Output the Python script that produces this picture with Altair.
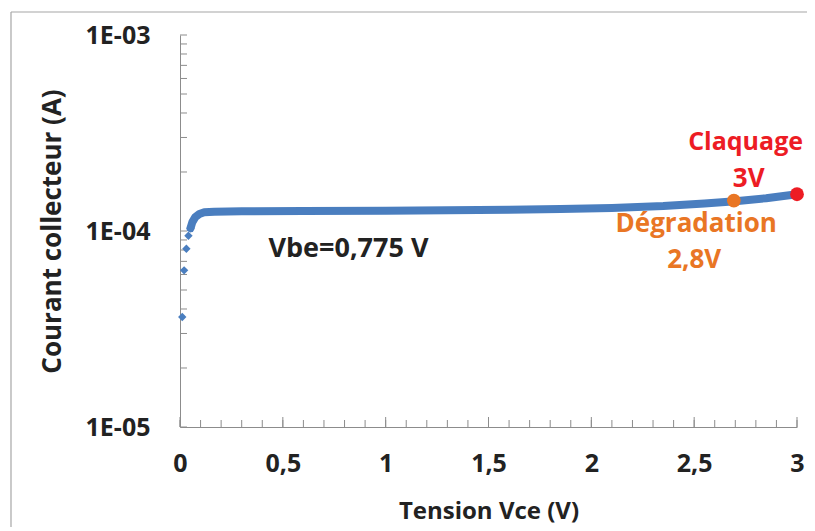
import altair as alt
import pandas as pd

# ---- data ----
sparse_vce = [0.011, 0.020, 0.031, 0.041, 0.051]
sparse_ic = [3.64e-5, 6.30e-5, 8.12e-5, 9.46e-5, 1.033e-4]

curve_vce = [0.051, 0.060, 0.075, 0.094, 0.118, 0.167, 0.30, 0.60, 1.00, 1.30,
             1.60, 1.85, 2.10, 2.35, 2.55, 2.70, 2.85, 3.00]
curve_ic = [1.033e-4, 1.11e-4, 1.18e-4, 1.22e-4, 1.245e-4, 1.255e-4, 1.26e-4,
            1.265e-4, 1.27e-4, 1.275e-4, 1.285e-4, 1.295e-4, 1.31e-4, 1.34e-4,
            1.38e-4, 1.42e-4, 1.47e-4, 1.54e-4]

key_labels = ["Dégradation", "Claquage"]
key_vce = [2.693, 3.0]
key_ic = [1.43e-4, 1.54e-4]
key_colors = ["#E97624", "#ED1C24"]

ann_text = ["Claquage", "3V", "Dégradation", "2,8V", "Vbe=0,775 V"]
ann_vce = [2.75, 2.765, 2.51, 2.50, 0.43]
ann_ic = [2.59e-4, 1.68e-4, 9.88e-5, 6.48e-5, 7.39e-5]
ann_color = ["#ED1C24", "#ED1C24", "#E97624", "#E97624", "#222222"]
ann_size = [25, 26, 26, 26, 27]

x_major = [0, 0.5, 1, 1.5, 2, 2.5, 3]
x_minor = [round(i * 0.1, 1) for i in range(31)]
y_major = [1e-5, 1e-4, 1e-3]
y_minor = [m * 10.0 ** e for e in (-5, -4) for m in range(1, 10)] + [1e-3]

W, H = 617, 392
FONT = "Open Sans"
BLUE = "#4A7EBF"
GREY = "#8C8C8C"
INK = "#222222"

xs = alt.Scale(domain=[0, 3], nice=False, zero=False)
ys = alt.Scale(type="log", domain=[1e-5, 1e-3], nice=False)

x_axis = alt.Axis(values=x_major, ticks=False, grid=False, domainColor=GREY,
                  labelExpr="replace(format(datum.value, '~g'), '.', ',')",
                  labelFlush=False,
                  labelFont=FONT, labelFontWeight="bold", labelFontSize=25,
                  labelColor=INK, labelPadding=24,
                  title="Tension Vce (V)", titleFont=FONT, titleFontWeight="bold",
                  titleFontSize=24, titleColor=INK, titlePadding=23)
y_axis = alt.Axis(values=y_major, ticks=False, grid=False, domainColor=GREY,
                  labelExpr="'1E-0' + round(-log(datum.value) / LN10)",
                  labelFont=FONT, labelFontWeight="bold", labelFontSize=25,
                  labelColor=INK, labelPadding=30,
                  title="Courant collecteur (A)", titleFont=FONT, titleFontWeight="bold",
                  titleFontSize=26, titleColor=INK, titlePadding=20)

curve_df = pd.DataFrame({"Vce": curve_vce, "Ic": curve_ic})
sparse_df = pd.DataFrame({"Vce": sparse_vce, "Ic": sparse_ic})
key_df = pd.DataFrame({"label": key_labels, "Vce": key_vce, "Ic": key_ic, "c": key_colors})
ann_df = pd.DataFrame({"t": ann_text, "Vce": ann_vce, "Ic": ann_ic, "c": ann_color, "s": ann_size})
xmin_df = pd.DataFrame({"v": x_minor, "major": [abs(v * 2 - round(v * 2)) < 1e-9 for v in x_minor]})
ymin_df = pd.DataFrame({"v": y_minor})
one = pd.DataFrame({"k": [0]})

frame_top = alt.Chart(one).mark_rule(color="#A6A6A6", strokeWidth=1.2).encode(
    x=alt.value(-169), x2=alt.value(W + 60), y=alt.value(-23))
frame_left = alt.Chart(one).mark_rule(color="#A6A6A6", strokeWidth=1.2).encode(
    x=alt.value(-169), y=alt.value(-23), y2=alt.value(H + 200))

base_line = alt.Chart(curve_df).mark_line(
    color=BLUE, strokeWidth=8, strokeCap="round", strokeJoin="round"
).encode(x=alt.X("Vce:Q", scale=xs, axis=x_axis), y=alt.Y("Ic:Q", scale=ys, axis=y_axis))

sparse = alt.Chart(sparse_df).mark_point(
    shape="diamond", filled=True, color=BLUE, size=70, opacity=1
).encode(x=alt.X("Vce:Q", scale=xs), y=alt.Y("Ic:Q", scale=ys))

keys = alt.Chart(key_df).mark_circle(size=190, opacity=1).encode(
    x=alt.X("Vce:Q", scale=xs), y=alt.Y("Ic:Q", scale=ys),
    color=alt.Color("c:N", scale=None))

ann_center = alt.Chart(ann_df).transform_filter("datum.t != 'Vbe=0,775 V'").mark_text(
    font=FONT, fontWeight="bold", align="center", baseline="alphabetic"
).encode(x=alt.X("Vce:Q", scale=xs), y=alt.Y("Ic:Q", scale=ys), text="t:N",
         size=alt.Size("s:Q", scale=None), color=alt.Color("c:N", scale=None))
ann_left = alt.Chart(ann_df).transform_filter("datum.t == 'Vbe=0,775 V'").mark_text(
    font=FONT, fontWeight="bold", align="left", baseline="alphabetic"
).encode(x=alt.X("Vce:Q", scale=xs), y=alt.Y("Ic:Q", scale=ys), text="t:N",
         size=alt.Size("s:Q", scale=None), color=alt.Color("c:N", scale=None))

xticks_minor = alt.Chart(xmin_df).mark_rule(color=GREY, strokeWidth=1).encode(
    x=alt.X("v:Q", scale=xs), y=alt.value(H), y2=alt.value(H - 7))
xticks_major = alt.Chart(xmin_df).transform_filter("datum.major").mark_rule(
    color=GREY, strokeWidth=1).encode(x=alt.X("v:Q", scale=xs), y=alt.value(H), y2=alt.value(H - 10))
yticks = alt.Chart(ymin_df).mark_rule(color=GREY, strokeWidth=1).encode(
    y=alt.Y("v:Q", scale=ys), x=alt.value(0), x2=alt.value(7))

chart = alt.layer(
    frame_top, frame_left, xticks_minor, xticks_major, yticks,
    base_line, sparse, keys, ann_center, ann_left
).properties(
    width=W, height=H,
    autosize=alt.AutoSizeParams(type="none"),
    padding={"left": 172, "top": 27, "right": 10, "bottom": 100},
    background="white",
).configure_view(stroke=None)

chart.save("out.html", embed_options={"renderer": "svg", "actions": False})
